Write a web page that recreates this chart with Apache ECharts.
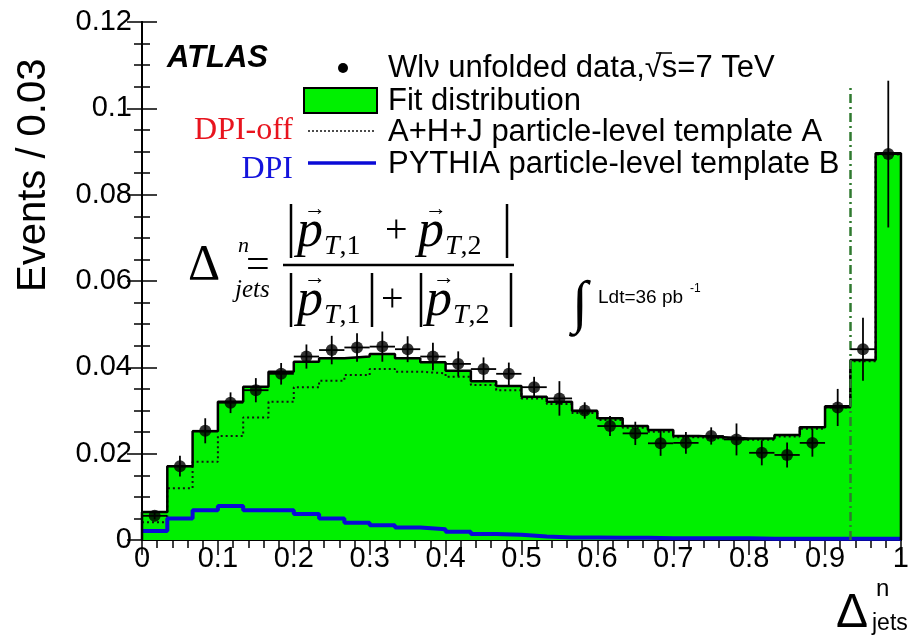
<!DOCTYPE html>
<html>
<head>
<meta charset="utf-8">
<script src="https://cdn.jsdelivr.net/npm/echarts@6/dist/echarts.min.js"></script>
<style>
  html, body { margin: 0; padding: 0; background: #fff; }
  #chart { width: 912px; height: 638px; }
</style>
</head>
<body>
<div id="chart"></div>
<script>
// Δ^n_jets distribution, 30 bins between 0 and 1
const nBins = 30;
const binEdges = Array.from({ length: nBins + 1 }, (_, i) => i / nBins);

// unfolded W->lν data with statistical errors
const dataValues = [0.0056, 0.0171, 0.0253, 0.0318, 0.0347, 0.0385, 0.0425, 0.0440, 0.0446, 0.0448,
                    0.0442, 0.0425, 0.0408, 0.0396, 0.0385, 0.0354, 0.0328, 0.0300, 0.0264, 0.0247,
                    0.0224, 0.0225, 0.0241, 0.0233, 0.0202, 0.0197, 0.0225, 0.0307, 0.0442, 0.0894];
const dataErrors = [0.0008, 0.0024, 0.0029, 0.0024, 0.0028, 0.0025, 0.0028, 0.0033, 0.0033, 0.0035,
                    0.0030, 0.0032, 0.0029, 0.0027, 0.0026, 0.0024, 0.0040, 0.0019, 0.0023, 0.0027,
                    0.0029, 0.0025, 0.0020, 0.0037, 0.0029, 0.0029, 0.0032, 0.0043, 0.0073, 0.0170];

// fit result and its two templates
const fitValues = [0.0065, 0.0171, 0.0252, 0.0320, 0.0355, 0.0390, 0.0413, 0.0421, 0.0425, 0.0431,
                   0.0421, 0.0412, 0.0392, 0.0368, 0.0357, 0.0332, 0.0320, 0.0299, 0.0282, 0.0264,
                   0.0255, 0.0241, 0.0238, 0.0235, 0.0235, 0.0243, 0.0261, 0.0310, 0.0417, 0.0896];
const templateA = [0.0041, 0.0120, 0.0181, 0.0241, 0.0284, 0.0320, 0.0354, 0.0369, 0.0382, 0.0396,
                   0.0390, 0.0386, 0.0378, 0.0359, 0.0347, 0.0328, 0.0315, 0.0294, 0.0278, 0.0260,
                   0.0251, 0.0238, 0.0235, 0.0232, 0.0232, 0.0240, 0.0258, 0.0307, 0.0414, 0.0893];
const templateB = [0.0021, 0.0050, 0.0069, 0.0079, 0.0069, 0.0069, 0.0060, 0.0050, 0.0040, 0.0034,
                   0.0029, 0.0025, 0.0019, 0.0014, 0.0012, 0.0008, 0.0006, 0.0006, 0.0005, 0.0005,
                   0.0004, 0.0004, 0.0004, 0.0004, 0.0003, 0.0003, 0.0003, 0.0003, 0.0003, 0.0003];

// fit range boundary
const cutValue = 0.9333;
const cutTop = 0.1047;

const yTicks = [0, 0.02, 0.04, 0.06, 0.08, 0.1, 0.12];

const GREEN = '#00f000';
const SANS = '"Liberation Sans", Arial, Helvetica, sans-serif';
const SERIF = '"Liberation Serif", "Times New Roman", serif';

// histogram outline as a closed step path
function stepPath(values) {
  const pts = [[binEdges[0], 0]];
  values.forEach((v, i) => {
    pts.push([binEdges[i], v]);
    pts.push([binEdges[i + 1], v]);
  });
  pts.push([binEdges[nBins], 0]);
  return pts;
}
function openStep(values) {
  const pts = [];
  values.forEach((v, i) => {
    pts.push([binEdges[i], v]);
    pts.push([binEdges[i + 1], v]);
  });
  return pts;
}

const points = dataValues.map((v, i) => [
  (binEdges[i] + binEdges[i + 1]) / 2, v, dataErrors[i], binEdges[i], binEdges[i + 1]
]);

const chart = echarts.init(document.getElementById('chart'), null, { renderer: 'canvas' });

const tickCommon = {
  axisLine: { show: true, lineStyle: { color: '#000', width: 2 } },
  axisTick: { show: true, inside: true, length: 15, lineStyle: { color: '#000', width: 1.5 } },
  minorTick: { show: true, length: 8, lineStyle: { color: '#000', width: 1.5 } },
  splitLine: { show: false },
  minorSplitLine: { show: false }
};

// helpers for the formula glyphs
function txt(x, y, text, font, extra) {
  return { type: 'text', x: x, y: y,
           style: Object.assign({ text: text, font: font, fill: '#000', textVerticalAlign: 'middle' }, extra || {}) };
}
function vbar(x, y1, y2) {
  return { type: 'line', shape: { x1: x, y1: y1, x2: x, y2: y2 }, style: { stroke: '#000', lineWidth: 2.5 } };
}
function vecP(x, y, sub) {
  return [
    txt(x, y, 'p', 'italic 52px ' + SERIF),
    txt(x + 7, y - 23, '→', '22px ' + SERIF),
    txt(x + 27, y + 15, '{i|T},' + sub, '28px ' + SERIF, { rich: { i: { font: 'italic 28px ' + SERIF } } })
  ];
}

const option = {
  animation: false,
  backgroundColor: '#fff',
  grid: { left: 142, top: 22, right: 6, bottom: 98, containLabel: false },
  xAxis: [
    Object.assign({}, tickCommon, {
      type: 'value', min: 0, max: 1, interval: 0.1, position: 'bottom',
      minorTick: Object.assign({}, tickCommon.minorTick, { splitNumber: 5 }),
      axisLabel: { fontFamily: SANS, fontSize: 29, color: '#000', margin: 4,
                   formatter: v => String(+v.toFixed(2)) }
    }),
    Object.assign({}, tickCommon, {
      type: 'value', min: 0, max: 1, interval: 0.1, position: 'top',
      minorTick: Object.assign({}, tickCommon.minorTick, { splitNumber: 5 }),
      axisLabel: { show: false }
    })
  ],
  yAxis: [
    Object.assign({}, tickCommon, {
      type: 'value', min: yTicks[0], max: yTicks[yTicks.length - 1], interval: 0.02, position: 'left',
      minorTick: Object.assign({}, tickCommon.minorTick, { splitNumber: 4 }),
      axisLabel: { fontFamily: SANS, fontSize: 29, color: '#000', margin: 10,
                   formatter: v => String(+v.toFixed(3)) }
    }),
    Object.assign({}, tickCommon, {
      type: 'value', min: yTicks[0], max: yTicks[yTicks.length - 1], interval: 0.02, position: 'right',
      minorTick: Object.assign({}, tickCommon.minorTick, { splitNumber: 4 }),
      axisLabel: { show: false }
    })
  ],
  series: [
    {
      name: 'Fit distribution', type: 'line', data: stepPath(fitValues),
      symbol: 'none', z: 1, lineStyle: { width: 0, opacity: 0 },
      areaStyle: { color: GREEN, opacity: 1 }
    },
    {
      name: 'A+H+J particle-level template A', type: 'line', data: openStep(templateA),
      symbol: 'none', z: 2, lineStyle: { color: '#111', width: 2, type: [2, 3] }
    },
    {
      name: 'PYTHIA particle-level template B', type: 'line', data: openStep(templateB),
      symbol: 'none', z: 3, lineStyle: { color: '#0a0ad6', width: 4 }
    },
    {
      name: 'Fit outline', type: 'line', data: stepPath(fitValues),
      symbol: 'none', z: 4, lineStyle: { color: '#000', width: 2.5 },
      markLine: {
        silent: true, symbol: 'none', label: { show: false },
        lineStyle: { color: '#2f7a2f', width: 2.5, type: [9, 4, 2, 4] },
        data: [[{ coord: [cutValue, 0] }, { coord: [cutValue, cutTop] }]]
      }
    },
    {
      name: 'errors', type: 'custom', z: 5, data: points,
      renderItem: function (params, api) {
        const x = api.value(0), y = api.value(1), e = api.value(2);
        const lo = api.value(3), hi = api.value(4);
        const pTop = api.coord([x, y + e]), pBot = api.coord([x, y - e]);
        const pL = api.coord([lo, y]), pR = api.coord([hi, y]);
        const st = { stroke: '#000', lineWidth: 1.8 };
        return {
          type: 'group',
          children: [
            { type: 'line', shape: { x1: pTop[0], y1: pTop[1], x2: pBot[0], y2: pBot[1] }, style: st },
            { type: 'line', shape: { x1: pL[0], y1: pL[1], x2: pR[0], y2: pR[1] }, style: st }
          ]
        };
      }
    },
    {
      name: 'Wlν unfolded data', type: 'scatter', z: 6,
      data: points.map(p => [p[0], p[1]]),
      symbol: 'circle', symbolSize: 12, itemStyle: { color: '#000' }
    }
  ],
  graphic: [].concat(
    [
      // axis titles
      { type: 'text', x: 14, y: 292, rotation: Math.PI / 2,
        style: { text: 'Events / 0.03', font: '40px ' + SANS, fill: '#000',
                 textAlign: 'left', textVerticalAlign: 'top' } },
      txt(836, 614, 'Δ', '48px ' + SANS),
      txt(876, 589, 'n', '24px ' + SANS),
      txt(872, 624, 'jets', '23px ' + SANS),

      // experiment label
      txt(167, 58, 'ATLAS', 'italic bold 31px ' + SANS),

      // legend
      { type: 'circle', shape: { cx: 343, cy: 68, r: 5 }, style: { fill: '#000' } },
      txt(388, 68, 'Wlν unfolded data,√s=7 TeV', '31px ' + SANS),
      { type: 'line', shape: { x1: 656, y1: 53, x2: 672, y2: 53 }, style: { stroke: '#000', lineWidth: 1.5 } },
      { type: 'rect', shape: { x: 304, y: 88, width: 73, height: 25 },
        style: { fill: GREEN, stroke: '#000', lineWidth: 2 } },
      txt(388, 101, 'Fit distribution', '31px ' + SANS),
      { type: 'line', shape: { x1: 308, y1: 131, x2: 376, y2: 131 },
        style: { stroke: '#111', lineWidth: 1.5, lineDash: [2, 2] } },
      txt(388, 132, 'A+H+J particle-level template A', '31px ' + SANS),
      { type: 'line', shape: { x1: 308, y1: 163, x2: 376, y2: 163 },
        style: { stroke: '#0a0ad6', lineWidth: 3.5 } },
      txt(388, 164, 'PYTHIA particle-level template B', '31px ' + SANS),
      txt(293, 131, 'DPI-off', '32px ' + SERIF, { fill: '#e8141e', textAlign: 'right' }),
      txt(293, 170, 'DPI', '32px ' + SERIF, { fill: '#1414dc', textAlign: 'right' }),

      // variable definition
      txt(188, 266, 'Δ', '50px ' + SERIF),
      txt(238, 246, 'n', 'italic 22px ' + SERIF),
      txt(235, 290, 'jets', 'italic 25px ' + SERIF),
      txt(246, 266, '=', '42px ' + SERIF),
      { type: 'line', shape: { x1: 283, y1: 265, x2: 514, y2: 265 }, style: { stroke: '#000', lineWidth: 2.5 } },

      // numerator |p1 + p2|
      vbar(291, 204, 258), vbar(507, 204, 258),
      txt(385, 231, '+', '40px ' + SERIF),

      // denominator |p1| + |p2|
      vbar(291, 273, 327), vbar(372, 273, 327), vbar(421, 273, 327), vbar(511, 273, 327),
      txt(381, 300, '+', '40px ' + SERIF),

      // integrated luminosity
      txt(572, 306, '∫', '58px ' + SERIF),
      txt(598, 298, 'Ldt=36 pb', '19px ' + SANS),
      txt(690, 289, '-1', '12px ' + SANS)
    ],
    vecP(297, 232, '1'), vecP(418, 232, '2'),
    vecP(297, 301, '1'), vecP(426, 301, '2')
  )
};

chart.setOption(option);
</script>
</body>
</html>
